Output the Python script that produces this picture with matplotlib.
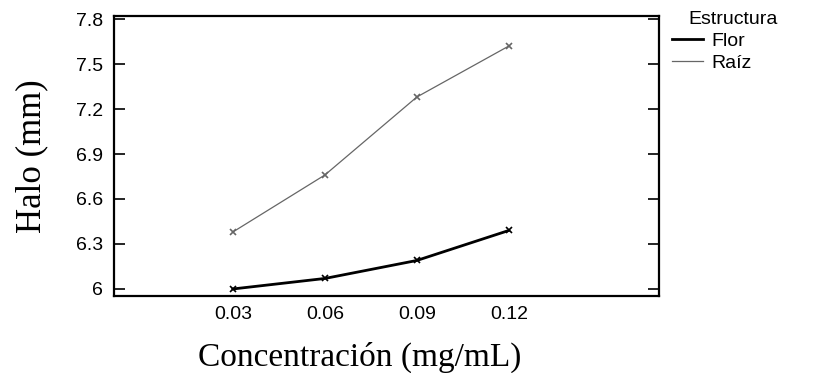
import matplotlib
matplotlib.use("Agg")
import matplotlib.pyplot as plt
from matplotlib.lines import Line2D

conc = [0.03, 0.06, 0.09, 0.12]
conc_labels = ["0.03", "0.06", "0.09", "0.12"]
flor = [6.00, 6.07, 6.19, 6.39]
raiz = [6.38, 6.76, 7.28, 7.62]
yticks = [6.0, 6.3, 6.6, 6.9, 7.2, 7.5, 7.8]
ytick_labels = ["6", "6.3", "6.6", "6.9", "7.2", "7.5", "7.8"]

fig = plt.figure(figsize=(8.14, 3.73), dpi=100)
ax = fig.add_axes([0.140, 0.2064, 0.6696, 0.7506])

ax.plot(conc, flor, color="black", lw=2.0, marker="x", ms=4, mew=1.2, label="Flor")
ax.plot(conc, raiz, color="#666666", lw=0.9, marker="x", ms=4, mew=1.2, label="Raíz")

ax.set_xlim(-0.0088, 0.169)
ax.set_ylim(5.953, 7.82)
ax.set_xticks(conc)
ax.set_xticklabels(conc_labels)
ax.set_yticks(yticks)
ax.set_yticklabels(ytick_labels)

for lab in ax.get_xticklabels() + ax.get_yticklabels():
    lab.set_fontfamily("Liberation Sans")
    lab.set_fontsize(14)

ax.tick_params(axis="y", direction="in", length=8, width=1.2, left=True, right=True, pad=8)
ax.tick_params(axis="x", length=0, pad=7)
for s in ax.spines.values():
    s.set_linewidth(1.6)
    s.set_color("black")

ax.set_xlabel("Concentración (mg/mL)", fontfamily="Liberation Serif", fontsize=24, labelpad=14)
ax.xaxis.label.set_x((360 - 114) / 545)
ax.set_ylabel("Halo (mm)", fontfamily="Liberation Serif", fontsize=25, labelpad=20)

handles = [Line2D([], [], color="black", lw=2.0), Line2D([], [], color="#666666", lw=0.9)]
fig.legend(handles, ["Flor", "Raíz"], loc="upper left",
           bbox_to_anchor=(672 / 814, 1 - 32 / 373), frameon=False,
           handlelength=1.6, handletextpad=0.45, labelspacing=0.25,
           borderaxespad=0.0, borderpad=0.0,
           prop={"family": "Liberation Sans", "size": 14})
fig.text(688 / 814, 1 - 19 / 373, "Estructura", fontfamily="Liberation Sans",
         fontsize=14, ha="left", va="center")

fig.savefig("out.png", dpi=100)
